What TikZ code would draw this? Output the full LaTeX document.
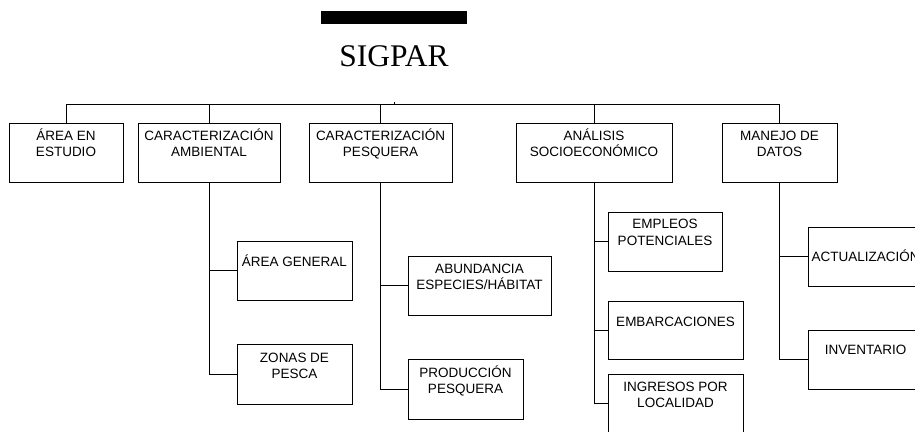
\documentclass[tikz,border=0pt]{standalone}
\usepackage{fontspec}
\setmainfont{Liberation Serif}
\newfontfamily\boxfont{Liberation Sans}
\begin{document}
\begin{tikzpicture}[x=1pt,y=-1pt,
  line width=1pt,
  box/.style={draw=black, line width=1pt, rectangle, inner sep=0pt},
  lbl/.style={font=\boxfont\fontsize{13.5}{16}\selectfont, inner sep=0pt, text height=9.7pt, text depth=0pt, anchor=center},
  wire/.style={draw=black, line width=1pt}]
\clip (0,0) rectangle (915,431);
% title
\fill[black] (321,11) rectangle (467,24);
\node[font=\fontsize{31.5}{36}\selectfont, inner sep=0pt, text height=20.8pt, text depth=0pt] (title) at (394,56) {SIGPAR};
% level 1 boxes
\node[box, minimum width=114pt, minimum height=59pt] (a1) at (66,152.5) {};
\node[box, minimum width=142pt, minimum height=59pt] (a2) at (209,152.5) {};
\node[box, minimum width=143pt, minimum height=59pt] (a3) at (380.5,152.5) {};
\node[box, minimum width=156pt, minimum height=59pt] (a4) at (594,152.5) {};
\node[box, minimum width=115pt, minimum height=59pt] (a5) at (779.5,152.5) {};
\node[lbl] (a1t1) at (66,136) {ÁREA EN};
\node[lbl] (a1t2) at (66,152) {ESTUDIO};
\node[lbl] (a2t1) at (209,136) {CARACTERIZACIÓN};
\node[lbl] (a2t2) at (209,152) {AMBIENTAL};
\node[lbl] (a3t1) at (380.5,136) {CARACTERIZACIÓN};
\node[lbl] (a3t2) at (380.5,152) {PESQUERA};
\node[lbl] (a4t1) at (594,136) {ANÁLISIS};
\node[lbl] (a4t2) at (594,152) {SOCIOECONÓMICO};
\node[lbl] (a5t1) at (779.5,136) {MANEJO DE};
\node[lbl] (a5t2) at (779.5,152) {DATOS};
% bus
\coordinate (busL) at (66,104);
\coordinate (busR) at (779,104);
\coordinate (tickB) at (394,104);
\coordinate (tickT) at (394,101.5);
\draw[wire] (busL) -- (busR);
\draw[wire] (tickB) -- (tickT);
\draw[wire] (a1.north) -- (a1.north |- busL);
\draw[wire] (a2.north) -- (a2.north |- busL);
\draw[wire] (a3.north) -- (a3.north |- busL);
\draw[wire] (a4.north) -- (a4.north |- busL);
\draw[wire] (a5.north) -- (a5.north |- busL);
% level 2 boxes
\node[box, minimum width=115pt, minimum height=59pt] (b1) at (294.5,270.5) {};
\node[box, minimum width=115pt, minimum height=60pt] (b2) at (294.5,374) {};
\node[lbl] (b1t1) at (294.5,262) {ÁREA GENERAL};
\node[lbl] (b2t1) at (294.5,358) {ZONAS DE};
\node[lbl] (b2t2) at (294.5,374) {PESCA};
\node[box, minimum width=143pt, minimum height=59pt] (c1) at (479.5,285.5) {};
\node[box, minimum width=115pt, minimum height=60pt] (c2) at (465.5,389) {};
\node[lbl] (c1t1) at (479.5,268.5) {ABUNDANCIA};
\node[lbl] (c1t2) at (479.5,285) {ESPECIES/HÁBITAT};
\node[lbl] (c2t1) at (465.5,373) {PRODUCCIÓN};
\node[lbl] (c2t2) at (465.5,388.5) {PESQUERA};
\node[box, minimum width=114pt, minimum height=59pt] (d1) at (665,241.5) {};
\node[box, minimum width=135pt, minimum height=58pt] (d2) at (675.5,330) {};
\node[box, minimum width=135pt, minimum height=58pt] (d3) at (675.5,403) {};
\node[lbl] (d1t1) at (665,224) {EMPLEOS};
\node[lbl] (d1t2) at (665,240.5) {POTENCIALES};
\node[lbl] (d2t1) at (675.5,322) {EMBARCACIONES};
\node[lbl] (d3t1) at (675.5,387) {INGRESOS POR};
\node[lbl] (d3t2) at (675.5,403) {LOCALIDAD};
\node[box, minimum width=115pt, minimum height=59pt] (e1) at (865.5,256.5) {};
\node[box, minimum width=115pt, minimum height=59pt] (e2) at (865.5,359.5) {};
\node[lbl, anchor=west] (e1t1) at (811,257) {ACTUALIZACIÓN};
\node[lbl] (e2t1) at (865.5,350) {INVENTARIO};
% level 2 connectors
\draw[wire] (a2.south) |- (b2.west);
\draw[wire] (a2.south |- b1.west) -- (b1.west);
\draw[wire] (a3.south) |- (c2.west);
\draw[wire] (a3.south |- c1.west) -- (c1.west);
\draw[wire] (a4.south) |- (d3.west);
\draw[wire] (a4.south |- d1.west) -- (d1.west);
\draw[wire] (a4.south |- d2.west) -- (d2.west);
\draw[wire] (a5.south) |- (e2.west);
\draw[wire] (a5.south |- e1.west) -- (e1.west);
\end{tikzpicture}
\end{document}
